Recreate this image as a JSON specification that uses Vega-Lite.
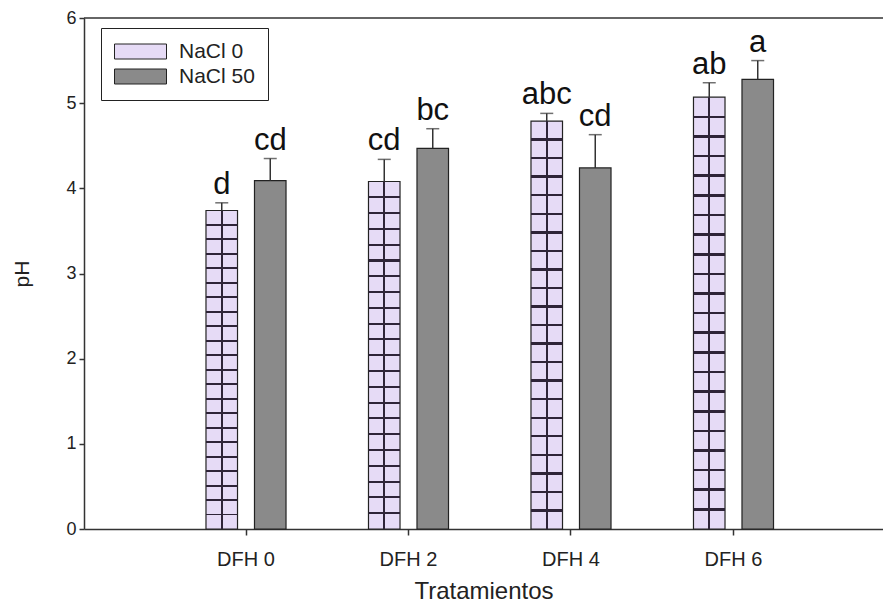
{
  "$schema": "https://vega.github.io/schema/vega-lite/v6.json",
  "width": 799,
  "height": 511,
  "autosize": {"type": "none"},
  "padding": {"left": 84, "top": 18, "right": 0, "bottom": 78},
  "background": "white",
  "config": {
    "font": "Liberation Sans",
    "view": {"stroke": null},
    "axis": {"grid": false, "domainColor": "#333333", "domainWidth": 1.5, "tickColor": "#333333", "tickWidth": 1.5, "labelColor": "#222222", "titleColor": "#222222", "titleFontWeight": "normal"}
  },
  "data": {
    "values": [
      {"Tratamiento": "DFH 0", "NaCl": "NaCl 0", "pH": 3.74, "upper": 3.83, "letra": "d"},
      {"Tratamiento": "DFH 0", "NaCl": "NaCl 50", "pH": 4.09, "upper": 4.35, "letra": "cd"},
      {"Tratamiento": "DFH 2", "NaCl": "NaCl 0", "pH": 4.08, "upper": 4.34, "letra": "cd"},
      {"Tratamiento": "DFH 2", "NaCl": "NaCl 50", "pH": 4.47, "upper": 4.70, "letra": "bc"},
      {"Tratamiento": "DFH 4", "NaCl": "NaCl 0", "pH": 4.79, "upper": 4.88, "letra": "abc"},
      {"Tratamiento": "DFH 4", "NaCl": "NaCl 50", "pH": 4.24, "upper": 4.63, "letra": "cd"},
      {"Tratamiento": "DFH 6", "NaCl": "NaCl 0", "pH": 5.07, "upper": 5.24, "letra": "ab"},
      {"Tratamiento": "DFH 6", "NaCl": "NaCl 50", "pH": 5.28, "upper": 5.50, "letra": "a"}
    ]
  },
  "layer": [
    {
      "mark": {"type": "bar", "stroke": "#222222", "strokeWidth": 1.2},
      "encoding": {
        "x": {
          "field": "Tratamiento", "type": "nominal",
          "scale": {"domain": ["DFH 0", "DFH 2", "DFH 4", "DFH 6"], "paddingInner": 0.3, "paddingOuter": 0.6085, "align": 0.5316, "round": false},
          "axis": {"title": "Tratamientos", "labelAngle": 0, "labelFontSize": 20, "labelPadding": 14, "tickSize": 6, "titleFontSize": 24, "titlePadding": 10}
        },
        "xOffset": {
          "field": "NaCl", "type": "nominal",
          "scale": {"domain": ["NaCl 0", "NaCl 50"], "paddingInner": 0.35, "paddingOuter": 0.3476}
        },
        "y": {
          "field": "pH", "type": "quantitative",
          "scale": {"domain": [0, 6], "nice": false},
          "axis": {"title": "pH", "tickCount": 6, "labelFontSize": 18, "tickSize": 5, "labelPadding": 3, "titleFontSize": 21, "titlePadding": 33}
        },
        "color": {
          "field": "NaCl", "type": "nominal",
          "scale": {"domain": ["NaCl 0", "NaCl 50"], "range": ["#E6DBF6", "#8A8A8A"]},
          "legend": {
            "title": null, "orient": "none", "legendX": 17, "legendY": 10,
            "strokeColor": "#222222", "fillColor": "white", "padding": 13,
            "symbolType": "M-1,-0.75H4.2V0.75H-1Z", "symbolSize": 400,
            "symbolStrokeColor": "#222222", "symbolStrokeWidth": 1, "symbolOpacity": 1,
            "labelFontSize": 21, "labelOffset": 44, "rowPadding": 3, "labelColor": "#222222"
          }
        }
      }
    },
    {
      "transform": [{"filter": {"field": "NaCl", "equal": "NaCl 0"}}],
      "mark": {"type": "bar", "fill": {"gradient": "linear", "x1": 0, "y1": 0, "x2": 1, "y2": 0, "stops": [
        {"offset": 0, "color": "rgba(0,0,0,0)"}, {"offset": 0.47, "color": "rgba(0,0,0,0)"},
        {"offset": 0.47, "color": "#2E2438"}, {"offset": 0.53, "color": "#2E2438"},
        {"offset": 0.53, "color": "rgba(0,0,0,0)"}, {"offset": 1, "color": "rgba(0,0,0,0)"}
      ]}},
      "encoding": {
        "x": {"field": "Tratamiento", "type": "nominal"},
        "xOffset": {"field": "NaCl", "type": "nominal"},
        "y": {"field": "pH", "type": "quantitative"}
      }
    },
    {
      "transform": [{"filter": {"field": "NaCl", "equal": "NaCl 0"}}],
      "mark": {"type": "bar", "fill": {"gradient": "linear", "x1": 0, "y1": 0, "x2": 0, "y2": 1, "stops": [
        {"offset": 0, "color": "rgba(0,0,0,0)"},
        {"offset": 0.0425, "color": "rgba(0,0,0,0)"}, {"offset": 0.0425, "color": "#2E2438"}, {"offset": 0.0485, "color": "#2E2438"}, {"offset": 0.0485, "color": "rgba(0,0,0,0)"},
        {"offset": 0.0879, "color": "rgba(0,0,0,0)"}, {"offset": 0.0879, "color": "#2E2438"}, {"offset": 0.0939, "color": "#2E2438"}, {"offset": 0.0939, "color": "rgba(0,0,0,0)"},
        {"offset": 0.1334, "color": "rgba(0,0,0,0)"}, {"offset": 0.1334, "color": "#2E2438"}, {"offset": 0.1394, "color": "#2E2438"}, {"offset": 0.1394, "color": "rgba(0,0,0,0)"},
        {"offset": 0.1788, "color": "rgba(0,0,0,0)"}, {"offset": 0.1788, "color": "#2E2438"}, {"offset": 0.1848, "color": "#2E2438"}, {"offset": 0.1848, "color": "rgba(0,0,0,0)"},
        {"offset": 0.2243, "color": "rgba(0,0,0,0)"}, {"offset": 0.2243, "color": "#2E2438"}, {"offset": 0.2303, "color": "#2E2438"}, {"offset": 0.2303, "color": "rgba(0,0,0,0)"},
        {"offset": 0.2697, "color": "rgba(0,0,0,0)"}, {"offset": 0.2697, "color": "#2E2438"}, {"offset": 0.2757, "color": "#2E2438"}, {"offset": 0.2757, "color": "rgba(0,0,0,0)"},
        {"offset": 0.3152, "color": "rgba(0,0,0,0)"}, {"offset": 0.3152, "color": "#2E2438"}, {"offset": 0.3212, "color": "#2E2438"}, {"offset": 0.3212, "color": "rgba(0,0,0,0)"},
        {"offset": 0.3606, "color": "rgba(0,0,0,0)"}, {"offset": 0.3606, "color": "#2E2438"}, {"offset": 0.3666, "color": "#2E2438"}, {"offset": 0.3666, "color": "rgba(0,0,0,0)"},
        {"offset": 0.4061, "color": "rgba(0,0,0,0)"}, {"offset": 0.4061, "color": "#2E2438"}, {"offset": 0.4121, "color": "#2E2438"}, {"offset": 0.4121, "color": "rgba(0,0,0,0)"},
        {"offset": 0.4515, "color": "rgba(0,0,0,0)"}, {"offset": 0.4515, "color": "#2E2438"}, {"offset": 0.4575, "color": "#2E2438"}, {"offset": 0.4575, "color": "rgba(0,0,0,0)"},
        {"offset": 0.497, "color": "rgba(0,0,0,0)"}, {"offset": 0.497, "color": "#2E2438"}, {"offset": 0.503, "color": "#2E2438"}, {"offset": 0.503, "color": "rgba(0,0,0,0)"},
        {"offset": 0.5425, "color": "rgba(0,0,0,0)"}, {"offset": 0.5425, "color": "#2E2438"}, {"offset": 0.5485, "color": "#2E2438"}, {"offset": 0.5485, "color": "rgba(0,0,0,0)"},
        {"offset": 0.5879, "color": "rgba(0,0,0,0)"}, {"offset": 0.5879, "color": "#2E2438"}, {"offset": 0.5939, "color": "#2E2438"}, {"offset": 0.5939, "color": "rgba(0,0,0,0)"},
        {"offset": 0.6334, "color": "rgba(0,0,0,0)"}, {"offset": 0.6334, "color": "#2E2438"}, {"offset": 0.6394, "color": "#2E2438"}, {"offset": 0.6394, "color": "rgba(0,0,0,0)"},
        {"offset": 0.6788, "color": "rgba(0,0,0,0)"}, {"offset": 0.6788, "color": "#2E2438"}, {"offset": 0.6848, "color": "#2E2438"}, {"offset": 0.6848, "color": "rgba(0,0,0,0)"},
        {"offset": 0.7243, "color": "rgba(0,0,0,0)"}, {"offset": 0.7243, "color": "#2E2438"}, {"offset": 0.7303, "color": "#2E2438"}, {"offset": 0.7303, "color": "rgba(0,0,0,0)"},
        {"offset": 0.7697, "color": "rgba(0,0,0,0)"}, {"offset": 0.7697, "color": "#2E2438"}, {"offset": 0.7757, "color": "#2E2438"}, {"offset": 0.7757, "color": "rgba(0,0,0,0)"},
        {"offset": 0.8152, "color": "rgba(0,0,0,0)"}, {"offset": 0.8152, "color": "#2E2438"}, {"offset": 0.8212, "color": "#2E2438"}, {"offset": 0.8212, "color": "rgba(0,0,0,0)"},
        {"offset": 0.8606, "color": "rgba(0,0,0,0)"}, {"offset": 0.8606, "color": "#2E2438"}, {"offset": 0.8666, "color": "#2E2438"}, {"offset": 0.8666, "color": "rgba(0,0,0,0)"},
        {"offset": 0.9061, "color": "rgba(0,0,0,0)"}, {"offset": 0.9061, "color": "#2E2438"}, {"offset": 0.9121, "color": "#2E2438"}, {"offset": 0.9121, "color": "rgba(0,0,0,0)"},
        {"offset": 0.9515, "color": "rgba(0,0,0,0)"}, {"offset": 0.9515, "color": "#2E2438"}, {"offset": 0.9575, "color": "#2E2438"}, {"offset": 0.9575, "color": "rgba(0,0,0,0)"},
        {"offset": 1, "color": "rgba(0,0,0,0)"}
      ]}},
      "encoding": {
        "x": {"field": "Tratamiento", "type": "nominal"},
        "xOffset": {"field": "NaCl", "type": "nominal"},
        "y": {"field": "pH", "type": "quantitative"}
      }
    },
    {
      "mark": {"type": "rule", "color": "#333333", "strokeWidth": 1.5},
      "encoding": {
        "x": {"field": "Tratamiento", "type": "nominal"},
        "xOffset": {"field": "NaCl", "type": "nominal"},
        "y": {"field": "pH", "type": "quantitative"},
        "y2": {"field": "upper"}
      }
    },
    {
      "mark": {"type": "tick", "color": "#333333", "thickness": 1.5, "size": 13},
      "encoding": {
        "x": {"field": "Tratamiento", "type": "nominal"},
        "xOffset": {"field": "NaCl", "type": "nominal"},
        "y": {"field": "upper", "type": "quantitative"}
      }
    },
    {
      "mark": {"type": "text", "fontSize": 31, "color": "#111111", "dy": -9, "baseline": "alphabetic", "align": "center"},
      "encoding": {
        "x": {"field": "Tratamiento", "type": "nominal"},
        "xOffset": {"field": "NaCl", "type": "nominal"},
        "y": {"field": "upper", "type": "quantitative"},
        "text": {"field": "letra"}
      }
    },
    {
      "data": {"values": [{}]},
      "mark": {"type": "rule", "color": "#333333", "strokeWidth": 1.5},
      "encoding": {
        "y": {"datum": 6, "type": "quantitative"}
      }
    }
  ]
}
